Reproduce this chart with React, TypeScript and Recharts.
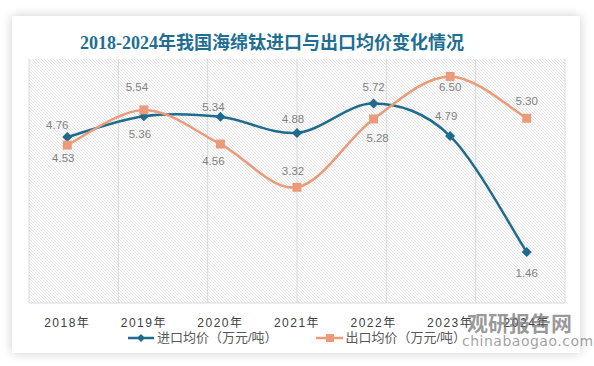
import React from 'react';
import { LineChart, Line, XAxis, YAxis, CartesianGrid, Legend, LabelList } from 'recharts';

const categories = ['2018年', '2019年', '2020年', '2021年', '2022年', '2023年', '2024年'];
const importPrice = [4.76, 5.36, 5.34, 4.88, 5.72, 4.79, 1.46];
const exportPrice = [4.53, 5.54, 4.56, 3.32, 5.28, 6.5, 5.3];
const importName = '进口均价（万元/吨）';
const exportName = '出口均价（万元/吨）';

// label nudges (text centre relative to the marker), one per point
const importLabelShift = [[-10, -12], [-4, 18], [-7, -10], [-4, -14], [0, -17], [-4, -20], [0, 21]];
const exportLabelShift = [[-4, 13], [-7, -23], [-7, 17], [-4, -16], [4, 19], [0, 11], [0, -17]];

const IMPORT_COLOR = '#1F6B8E';
const EXPORT_COLOR = '#EB9A7A';

const data = categories.map((name, i) => ({ name, imp: importPrice[i], exp: exportPrice[i] }));
const gridTicks = categories.map((_, i) => i);

// Excel-like smoothing: catmull-rom converted to cubic beziers
const smoothCurve: any = (context: any) => {
  let pts: number[][] = [];
  return {
    areaStart() {},
    areaEnd() {},
    lineStart() {
      pts = [];
    },
    point(x: number, y: number) {
      pts.push([x, y]);
    },
    lineEnd() {
      if (!pts.length) return;
      context.moveTo(pts[0][0], pts[0][1]);
      for (let i = 0; i < pts.length - 1; i++) {
        const p0 = pts[i - 1] || pts[i];
        const p1 = pts[i];
        const p2 = pts[i + 1];
        const p3 = pts[i + 2] || pts[i + 1];
        context.bezierCurveTo(
          p1[0] + (p2[0] - p0[0]) / 6,
          p1[1] + (p2[1] - p0[1]) / 6,
          p2[0] - (p3[0] - p1[0]) / 6,
          p2[1] - (p3[1] - p1[1]) / 6,
          p2[0],
          p2[1]
        );
      }
    },
  };
};

const diamondDot = (props: any) => {
  const { cx, cy, index } = props;
  const r = 5;
  return (
    <path
      key={`imp-dot-${index}`}
      d={`M${cx},${cy - r}L${cx + r},${cy}L${cx},${cy + r}L${cx - r},${cy}Z`}
      fill={IMPORT_COLOR}
    />
  );
};

const squareDot = (props: any) => {
  const { cx, cy, index } = props;
  return <rect key={`exp-dot-${index}`} x={cx - 4.5} y={cy - 4.5} width={9} height={9} fill={EXPORT_COLOR} />;
};

const makeLabel = (shift: number[][]) => (props: any) => {
  const { x, y, value, index } = props;
  const [dx, dy] = shift[index] || [0, -14];
  return (
    <text
      key={`lbl-${index}`}
      x={x + dx}
      y={y + dy}
      textAnchor="middle"
      dominantBaseline="central"
      fontSize={11.5}
      fill="#7F7F7F"
      fontFamily="'Liberation Sans', Arial, sans-serif"
    >
      {Number(value).toFixed(2)}
    </text>
  );
};

const renderLegend = () => (
  <div
    style={{
      display: 'flex',
      justifyContent: 'center',
      gap: 38,
      fontSize: 13,
      color: '#595959',
      fontFamily: "'Liberation Sans', 'Noto Sans CJK SC', sans-serif",
      lineHeight: '16px',
    }}
  >
    <span style={{ display: 'flex', alignItems: 'center' }}>
      <svg width={26} height={12} style={{ marginRight: 3 }}>
        <line x1={0} y1={6} x2={26} y2={6} stroke={IMPORT_COLOR} strokeWidth={2.5} />
        <path d="M13,2L17,6L13,10L9,6Z" fill={IMPORT_COLOR} />
      </svg>
      {importName}
    </span>
    <span style={{ display: 'flex', alignItems: 'center' }}>
      <svg width={27} height={12} style={{ marginRight: 3 }}>
        <line x1={0} y1={6} x2={27} y2={6} stroke={EXPORT_COLOR} strokeWidth={2.5} />
        <rect x={10} y={2} width={8} height={8} fill={EXPORT_COLOR} />
      </svg>
      {exportName}
    </span>
  </div>
);

const App: React.FC = () => {
  return (
    <div style={{ position: 'absolute', left: 0, top: 0, width: 594, height: 366, background: '#fff', overflow: 'hidden' }}>
      <div
        style={{
          position: 'absolute',
          left: 12,
          top: 16,
          width: 568,
          height: 337,
          background: '#fff',
          boxShadow: '0 0 10px rgba(0,0,0,0.2)',
        }}
      />
      <div
        style={{
          position: 'absolute',
          left: 80,
          top: 33,
          fontSize: 18,
          lineHeight: '20px',
          fontWeight: 'bold',
          color: '#216E93',
          fontFamily: "'Liberation Serif', 'Noto Sans CJK SC', serif",
          whiteSpace: 'nowrap',
        }}
      >
        2018-2024年我国海绵钛进口与出口均价变化情况
      </div>
      <div style={{ position: 'absolute', left: 0, top: 0 }}>
        <LineChart width={594} height={366} data={data} margin={{ top: 59, right: 29, bottom: 33, left: 29 }}>
          <defs>
            <pattern id="hatch" width={3} height={3} patternUnits="userSpaceOnUse">
              <rect width={3} height={3} fill="#ffffff" />
              <path d="M-1,-1L4,4M-1,2L1,4M2,-1L4,1" stroke="#dedede" strokeWidth={0.8} />
            </pattern>
          </defs>
          <XAxis xAxisId="grid" type="number" domain={[0, categories.length]} ticks={gridTicks} hide />
          <CartesianGrid xAxisId="grid" horizontal={false} stroke="#d9d9d9" fill="url(#hatch)" />
          <XAxis
            dataKey="name"
            scale="band"
            tickLine={false}
            tickSize={6}
            tickMargin={9}
            axisLine={{ stroke: '#d9d9d9' }}
            interval={0}
            tick={{
              fontSize: 12,
              fill: '#404040',
              letterSpacing: 1.5,
              fontFamily: "'Liberation Sans', 'Noto Sans CJK SC', sans-serif",
            }}
          />
          <YAxis domain={[0, 7]} hide />
          <Legend verticalAlign="middle" content={renderLegend} wrapperStyle={{ top: 330, left: 0, width: 594 }} />
          <Line
            dataKey="imp"
            name={importName}
            type={smoothCurve}
            stroke={IMPORT_COLOR}
            strokeWidth={2.5}
            dot={diamondDot}
            activeDot={false}
            isAnimationActive={false}
          >
            <LabelList dataKey="imp" content={makeLabel(importLabelShift)} />
          </Line>
          <Line
            dataKey="exp"
            name={exportName}
            type={smoothCurve}
            stroke={EXPORT_COLOR}
            strokeWidth={2.5}
            dot={squareDot}
            activeDot={false}
            isAnimationActive={false}
          >
            <LabelList dataKey="exp" content={makeLabel(exportLabelShift)} />
          </Line>
        </LineChart>
      </div>
      <div
        style={{
          position: 'absolute',
          left: 467,
          top: 310,
          fontSize: 21,
          fontWeight: 'bold',
          color: 'rgba(120,120,120,0.75)',
          fontFamily: "'Noto Sans CJK SC', sans-serif",
          lineHeight: '24px',
          letterSpacing: 0,
        }}
      >
        观研报告网
      </div>
      <div
        style={{
          position: 'absolute',
          left: 462,
          top: 333,
          fontSize: 14,
          color: 'rgba(130,130,130,0.75)',
          fontFamily: "'DejaVu Sans', sans-serif",
          lineHeight: '16px',
          letterSpacing: 0.5,
        }}
      >
        chinabaogao.com
      </div>
    </div>
  );
};

export default App;
